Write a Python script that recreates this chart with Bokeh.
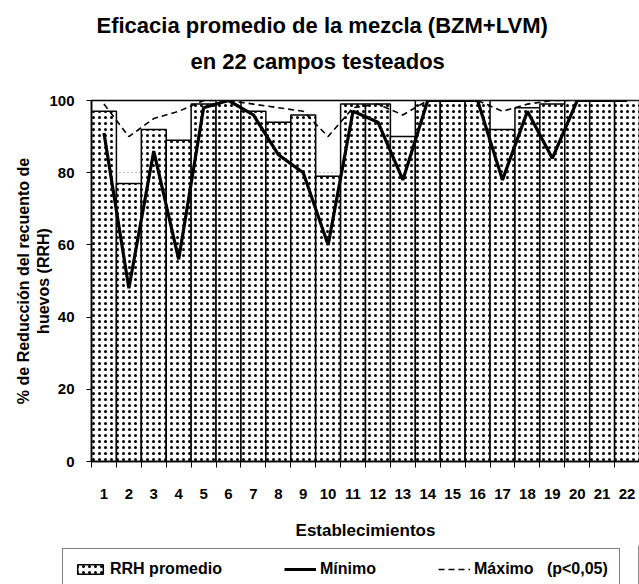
from bokeh.plotting import figure
from bokeh.models import (Range1d, FixedTicker, Title, Legend, LegendItem, ColumnDataSource)
from bokeh.embed import file_html
from bokeh.resources import INLINE

categories = ["1", "2", "3", "4", "5", "6", "7", "8", "9", "10", "11",
              "12", "13", "14", "15", "16", "17", "18", "19", "20", "21", "22"]
rrh_promedio = [97, 77, 92, 89, 99, 100, 97, 94, 96, 79, 99,
                99, 90, 100, 100, 100, 92, 98, 99, 100, 100, 100]
minimo = [91, 48, 86, 56, 98, 100, 96, 85, 80, 60, 97,
          94, 78, 100, 100, 100, 78, 97, 84, 100, 100, 100]
maximo = [99, 90, 95, 97, 100, 100, 99, 98, 97, 90, 98,
          99, 96, 100, 100, 100, 97, 99, 100, 100, 100, 100]
y_ticks = [0, 20, 40, 60, 80, 100]
legend_labels = ["RRH promedio", "Mínimo", "Máximo\u00a0\u00a0\u00a0(p<0,05)"]

FONT = "Liberation Sans"
W = 639

xs = list(range(1, len(categories) + 1))
src = ColumnDataSource(dict(x=xs, cat=categories, rrh=rrh_promedio,
                            mn=minimo, mx=maximo))

bar_style = dict(fill_color="white", line_color="black", line_width=1.5,
                 hatch_pattern="dot", hatch_color="black", hatch_scale=6,
                 hatch_weight=1.6)
min_style = dict(line_color="black", line_width=3.2)
max_style = dict(line_color="black", line_width=1.6, line_dash="6 4")

p = figure(width=W, height=545, output_backend="svg", toolbar_location=None,
           x_range=Range1d(0.5, len(categories) + 0.5), y_range=Range1d(0, 100),
           min_border_left=91, min_border_right=0, min_border_top=100,
           min_border_bottom=84)
p.outline_line_color = "black"
p.outline_line_width = 1.5

p.vbar(x="x", top="rrh", width=1.0, source=src, **bar_style)
p.line(x="x", y="mn", source=src, **min_style)
p.line(x="x", y="mx", source=src, **max_style)

p.xgrid.grid_line_color = None
p.ygrid.ticker = FixedTicker(ticks=y_ticks)
p.ygrid.grid_line_color = "#777777"
p.ygrid.grid_line_dash = "1 3"

p.yaxis.ticker = FixedTicker(ticks=y_ticks)
p.yaxis.major_tick_out = 5
p.yaxis.major_tick_in = 0
p.yaxis.minor_tick_line_color = None
p.yaxis.major_label_standoff = 12
p.yaxis.axis_label = "% de Reducción del recuento de\nhuevos (RRH)"
p.yaxis.axis_label_standoff = -6

bounds = [x - 0.5 for x in xs] + [xs[-1] + 0.5]
p.xaxis.ticker = FixedTicker(ticks=xs, minor_ticks=bounds)
p.xaxis.major_label_overrides = {x: c for x, c in zip(xs, categories)}
p.xaxis.major_tick_line_color = None
p.xaxis.minor_tick_out = 6
p.xaxis.minor_tick_in = 0
p.xaxis.major_label_standoff = 21
p.xaxis.axis_label = "Establecimientos"
p.xaxis.axis_label_standoff = 19

for ax in (p.xaxis[0], p.yaxis[0]):
    ax.axis_line_color = "black"
    ax.axis_line_width = 1.5
    ax.major_label_text_font = FONT
    ax.major_label_text_font_style = "bold"
    ax.major_label_text_font_size = "15px"
    ax.major_label_text_color = "black"
    ax.axis_label_text_font = FONT
    ax.axis_label_text_font_style = "bold"
    ax.axis_label_text_color = "black"
p.xaxis.axis_label_text_font_size = "17px"
p.yaxis.axis_label_text_font_size = "16px"

# title lines (stacked outward from the frame)
p.add_layout(Title(text="\u00a0", text_font=FONT, text_font_size="12px",
                   standoff=4), "above")
p.add_layout(Title(text="en 22 campos testeados", align="left",
                   text_font=FONT, text_font_style="bold", text_color="black",
                   text_font_size="22px", offset=99, standoff=14), "above")
p.add_layout(Title(text="Eficacia promedio de la mezcla (BZM+LVM)", align="left",
                   text_font=FONT, text_font_style="bold", text_color="black",
                   text_font_size="22px", offset=5, standoff=4), "above")

# legend strip below the chart
pl = figure(width=W, height=39, output_backend="svg", toolbar_location=None,
            x_range=Range1d(0, 1), y_range=Range1d(0, 1),
            x_axis_location=None, y_axis_location=None,
            min_border_left=0, min_border_right=0, min_border_top=0,
            min_border_bottom=0)
pl.grid.grid_line_color = None
pl.outline_line_color = None
offscreen = ColumnDataSource(dict(x=[5, 6], top=[5, 5], y=[5, 5]))
rb = pl.vbar(x="x", top="top", width=0.1, source=offscreen, **bar_style)
rmin = pl.line(x="x", y="y", source=offscreen, **min_style)
rmax = pl.line(x="x", y="y", source=offscreen, **max_style)

legend = Legend(items=[
    LegendItem(label=legend_labels[0], renderers=[rb]),
    LegendItem(label=legend_labels[1], renderers=[rmin]),
    LegendItem(label=legend_labels[2], renderers=[rmax]),
], orientation="horizontal", location=(62, -6))
legend.border_line_color = "black"
legend.border_line_width = 1.2
legend.background_fill_color = "white"
legend.label_text_font = FONT
legend.label_text_font_style = "bold"
legend.label_text_font_size = "16px"
legend.label_text_color = "black"
legend.glyph_width = 32
legend.glyph_height = 12
legend.label_standoff = 4
legend.spacing = 62
legend.padding = 11
legend.margin = 0
pl.add_layout(legend, "center")

open("out.html", "w").write(file_html([p, pl], INLINE))
